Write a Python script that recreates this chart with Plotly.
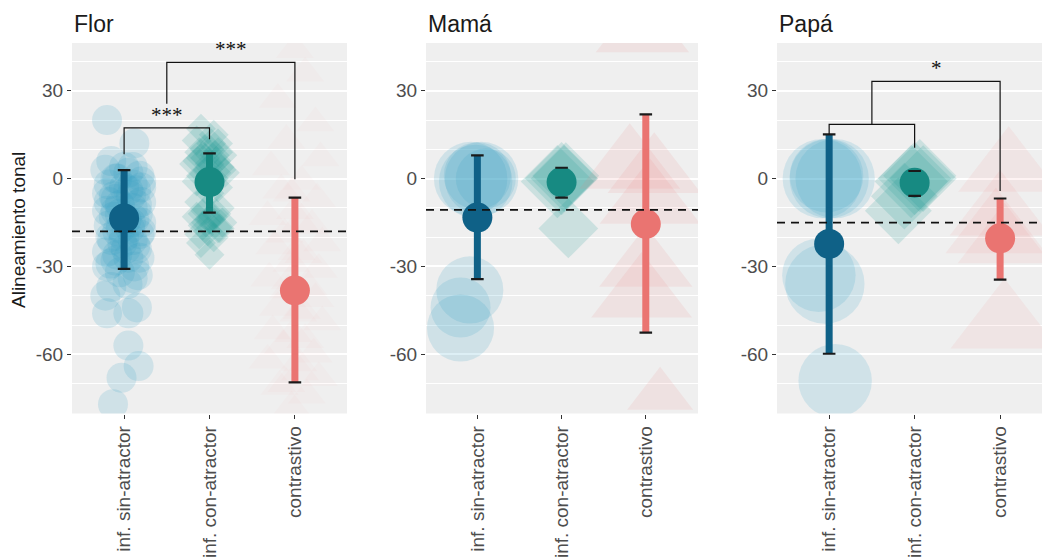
import math
import plotly.graph_objects as go

categories = ["inf. sin-atractor", "inf. con-atractor", "contrastivo"]
speakers = ["Flor", "Mamá", "Papá"]
y_ticks = [-60, -30, 0, 30]

# Condition means with interval bounds, one list per speaker
flor_mean = [-13.6, -1.2, -38.2]
flor_upper = [2.9, 8.6, -6.5]
flor_lower = [-30.8, -11.6, -69.6]

mama_mean = [-13.3, -1.2, -15.5]
mama_upper = [7.9, 3.7, 21.9]
mama_lower = [-34.3, -6.5, -52.6]

papa_mean = [-22.3, -1.4, -20.4]
papa_upper = [15.1, 2.6, -6.8]
papa_lower = [-59.8, -5.9, -34.5]

# Reference level (dashed line) per speaker
baseline = [-18.0, -10.7, -15.0]

# Individual observations: value, horizontal jitter, and count (n) where grouped
flor_sin_y = [20, 12, 6, 4, 3, 2, 1, 0, -1, -2, -3, -4, -5, -6, -7, -8, -9, -10, -11, -12,
              -13, -14, -15, -16, -17, -18, -19, -20, -21, -22, -24, -25, -27, -28, -30, -32,
              -34, -37, -40, -44, -46, -46, -57, -64, -68, -77,
              -2, -6, -9, -12, -15, -18, -21, -24, -27, -30, 0, -4, -8, -14, -20, -26, -33,
              -36, 4, -11, -3, -17, -23, -29]
flor_sin_jit = [-0.2, 0.12, -0.15, 0.1, -0.22, 0.05, 0.18, -0.08, 0.2, -0.18, 0.0, 0.14, -0.2,
                0.08, -0.1, 0.2, -0.05, 0.1, -0.2, 0.16, -0.12, 0.03, 0.2, -0.18, 0.07, -0.08,
                0.18, -0.16, 0.1, -0.02, 0.15, -0.2, 0.05, -0.1, 0.12, -0.05, 0.1, -0.15,
                -0.22, 0.15, -0.2, 0.05, 0.05, 0.17, -0.03, -0.13,
                0.1, -0.12, 0.15, -0.05, 0.08, 0.2, -0.14, 0.02, 0.18, -0.2, -0.1, 0.05,
                -0.18, 0.12, 0.0, -0.08, 0.16, 0.04, 0.0, -0.1, 0.2, -0.04, 0.13, -0.16]

flor_con_y = [17, 15, 13, 12, 10, 9, 8, 7, 6, 5, 4, 3, 2, 1, 0, -1, -3, -5, -8, -10,
              -11, -12, -13, -14, -15, -16, -17, -18, -20, -22, -26,
              12, 9, 7, 5, 3, 10, 8, -13, -15, -17, -19, -14, 6, 2, -12]
flor_con_jit = [-0.1, 0.05, -0.15, 0.1, 0.0, -0.12, 0.15, -0.05, 0.08, -0.18, 0.12, -0.02,
                0.18, -0.1, 0.05, -0.15, 0.1, 0.0, -0.12, 0.12, -0.05, 0.08, -0.15, 0.02,
                0.15, -0.08, 0.1, -0.02, 0.05, -0.1, 0.0,
                0.02, 0.1, -0.1, 0.0, 0.14, -0.06, 0.06, 0.04, -0.04, 0.12, -0.12, 0.0,
                -0.14, 0.08, -0.08]

flor_contr_y = [44, 36, 27, 19, 13, 7, 4, -1, -4, -7, -11, -13, -16, -19, -22, -23, -26, -29,
                -31, -34, -37, -38, -41, -44, -46, -49, -52, -55, -57, -60, -62, -66, -68,
                -71, -74, -78, -25, -35, -45, -53, -63, -70, -15, -5]
flor_contr_jit = [0.0, 0.12, -0.2, 0.24, -0.1, 0.3, -0.28, 0.08, -0.16, 0.26, 0.0, -0.32, 0.2,
                  -0.12, 0.32, -0.24, 0.1, -0.04, 0.28, -0.3, 0.16, -0.08, 0.24, -0.2, 0.04,
                  0.32, -0.26, 0.12, -0.14, 0.22, -0.32, 0.06, 0.28, -0.18, 0.14, -0.04,
                  0.02, -0.06, 0.08, -0.02, 0.04, -0.1, 0.06, -0.04]

mama_sin_y = [0, 0, 1, -1, 0, -38, -44, -51]
mama_sin_jit = [-0.08, 0.05, 0.0, -0.02, 0.1, -0.09, -0.2, -0.2]
mama_sin_n = [6, 6, 5, 6, 4, 5, 4, 5]

mama_con_y = [0, 1, -1, 0, -17]
mama_con_jit = [0.0, 0.05, -0.05, 0.03, 0.08]
mama_con_n = [6, 5, 6, 5, 4]

mama_contr_y = [50, 4, -8, 2, -30, -40, -74]
mama_contr_jit = [-0.04, -0.19, 0.05, 0.1, 0.0, -0.05, 0.17]
mama_contr_n = [6, 7, 7, 6, 6, 7, 3]

papa_sin_y = [0, 0, 0, 1, -33, -36, -69]
papa_sin_jit = [-0.08, 0.0, 0.07, -0.03, -0.12, -0.05, 0.07]
papa_sin_n = [7, 7, 7, 6, 6, 7, 6]

papa_con_y = [0, 1, -1, 0, -11, -6]
papa_con_jit = [0.0, 0.06, -0.04, 0.1, -0.19, -0.12]
papa_con_n = [6, 6, 6, 5, 5, 5]

papa_contr_y = [3, -12, -18, -22, -50]
papa_contr_jit = [0.1, 0.0, -0.05, 0.05, 0.05]
papa_contr_n = [7, 7, 7, 6, 8]

# Significance brackets: left x, right x, top, left end, right end, label
flor_sig = [(1, 2, 17.3, 8.3, 13.4, "***"), (1.5, 3, 39.7, 25.6, -0.2, "***")]
mama_sig = []
papa_sig = [(1, 2, 18.5, 15.1, 10.5, ""), (1.5, 3, 33.2, 18.5, -4.2, "*")]

# ---------------------------------------------------------------- styling
W, H = 1042, 560
x_domains = [(72 / W, 347 / W), (426 / W, 698 / W), (777 / W, 1.0)]
x_ranges = [(0.39, 3.61), (0.39, 3.62), (0.39, 3.49)]
y_domain = (1 - 413.5 / H, 1 - 43 / H)
y_range = (-80.2, 46.3)

raw_symbols = ["circle", "diamond", "triangle-up"]
raw_base_size = [30, 23, 33]
raw_colors = ["rgba(52,163,196,{a})", "rgba(30,156,146,{a})", "rgba(240,120,120,{a})"]
raw_alpha = [[0.24, 0.24, 0.045], [0.24, 0.24, 0.16], [0.23, 0.24, 0.13]]
mean_colors = ["#0F6187", "#178A82", "#EA7471"]

FONT = "Liberation Sans"
TICK_FONT = dict(family=FONT, size=19, color="#4D4D4D")

panels = [
    dict(mean=flor_mean, upper=flor_upper, lower=flor_lower, sig=flor_sig,
         raw=[(flor_sin_y, flor_sin_jit, None), (flor_con_y, flor_con_jit, None),
              (flor_contr_y, flor_contr_jit, None)]),
    dict(mean=mama_mean, upper=mama_upper, lower=mama_lower, sig=mama_sig,
         raw=[(mama_sin_y, mama_sin_jit, mama_sin_n), (mama_con_y, mama_con_jit, mama_con_n),
              (mama_contr_y, mama_contr_jit, mama_contr_n)]),
    dict(mean=papa_mean, upper=papa_upper, lower=papa_lower, sig=papa_sig,
         raw=[(papa_sin_y, papa_sin_jit, papa_sin_n), (papa_con_y, papa_con_jit, papa_con_n),
              (papa_contr_y, papa_contr_jit, papa_contr_n)]),
]

fig = go.Figure()
annotations = []
shapes = []

for p, panel in enumerate(panels):
    xa = "x" if p == 0 else f"x{p + 1}"
    ya = "y" if p == 0 else f"y{p + 1}"

    # jittered raw observations
    for g, (ys, jit, ns) in enumerate(panel["raw"]):
        counts = ns if ns is not None else [1] * len(ys)
        fig.add_trace(go.Scatter(
            x=[g + 1 + j for j in jit], y=ys, xaxis=xa, yaxis=ya, mode="markers",
            marker=dict(symbol=raw_symbols[g],
                        size=[raw_base_size[g] * math.sqrt(n) for n in counts],
                        color=raw_colors[g].format(a=raw_alpha[p][g]),
                        line=dict(width=0)),
            hoverinfo="skip", showlegend=False))

    # interval bars
    for g in range(3):
        fig.add_trace(go.Scatter(
            x=[g + 1, g + 1], y=[panel["lower"][g], panel["upper"][g]],
            xaxis=xa, yaxis=ya, mode="lines",
            line=dict(color=mean_colors[g], width=7),
            hoverinfo="skip", showlegend=False))

    # means
    fig.add_trace(go.Scatter(
        x=[1, 2, 3], y=panel["mean"], xaxis=xa, yaxis=ya, mode="markers",
        marker=dict(symbol="circle", size=30, color=mean_colors, line=dict(width=0)),
        hoverinfo="skip", showlegend=False))

    # interval caps
    fig.add_trace(go.Scatter(
        x=[1, 2, 3, 1, 2, 3], y=panel["upper"] + panel["lower"], xaxis=xa, yaxis=ya,
        mode="markers",
        marker=dict(symbol="line-ew", size=9, line=dict(color="#1A1A1A", width=2.2)),
        hoverinfo="skip", showlegend=False))

    # dashed reference level
    shapes.append(dict(type="line", xref=f"{xa} domain", yref=ya, x0=0, x1=1,
                       y0=baseline[p], y1=baseline[p], layer="above",
                       line=dict(color="#111111", width=1.8, dash="8px,6px")))

    # significance brackets
    for (xl, xr, top, yl, yr, label) in panel["sig"]:
        fig.add_trace(go.Scatter(
            x=[xl, xl, xr, xr], y=[yl, top, top, yr], xaxis=xa, yaxis=ya, mode="lines",
            line=dict(color="#111111", width=1.2), hoverinfo="skip", showlegend=False))
        if label:
            annotations.append(dict(
                x=(xl + xr) / 2, y=top - 0.2, xref=xa, yref=ya, text=label, showarrow=False,
                xanchor="center", yanchor="bottom",
                font=dict(family="Liberation Serif", size=21, color="#111111")))

    # panel title
    annotations.append(dict(
        x=x_domains[p][0], y=1 - 24 / H, xref="paper", yref="paper", text=speakers[p],
        showarrow=False, xanchor="left", yanchor="middle",
        font=dict(family=FONT, size=23, color="#1A1A1A")))

# y-axis title
annotations.append(dict(
    x=18 / W, y=1 - 230 / H, xref="paper", yref="paper", text="Alineamiento tonal",
    showarrow=False, textangle=-90, xanchor="center", yanchor="middle",
    font=dict(family=FONT, size=19, color="#1A1A1A")))

layout = dict(
    width=W, height=H, margin=dict(l=0, r=0, t=0, b=0),
    paper_bgcolor="white", plot_bgcolor="#EFEFEF", showlegend=False,
    font=dict(family=FONT), annotations=annotations, shapes=shapes,
)

for p in range(3):
    sx = "" if p == 0 else str(p + 1)
    layout[f"xaxis{sx}"] = dict(
        domain=list(x_domains[p]), range=list(x_ranges[p]), anchor=f"y{sx}",
        tickmode="array", tickvals=[1, 2, 3], ticktext=categories, tickangle=-90,
        ticks="outside", ticklen=4, tickwidth=1.3, tickcolor="#333333",
        showgrid=False, zeroline=False, showline=False, tickfont=TICK_FONT,
        fixedrange=True)
    layout[f"yaxis{sx}"] = dict(
        domain=list(y_domain), range=list(y_range), anchor=f"x{sx}",
        tickmode="array", tickvals=y_ticks, ticktext=[str(v) for v in y_ticks],
        ticks="outside", ticklen=4, tickwidth=1.3, tickcolor="#333333",
        showgrid=True, gridcolor="white", gridwidth=1.6,
        minor=dict(tick0=0, dtick=10, showgrid=True, gridcolor="white", gridwidth=1.4),
        zeroline=False, showline=False, tickfont=TICK_FONT, fixedrange=True)

fig.update_layout(**layout)
fig.write_html("out.html")
